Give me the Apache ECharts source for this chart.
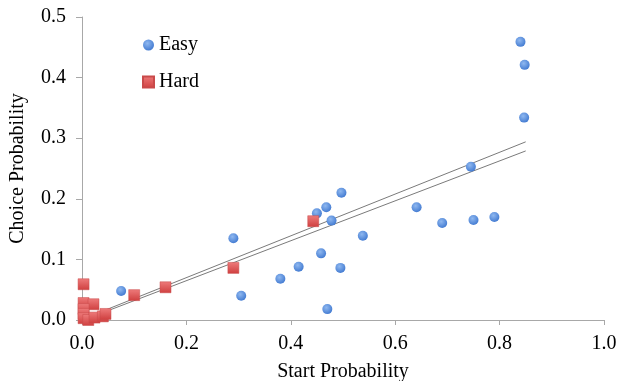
<!DOCTYPE html>
<html>
<head>
<meta charset="utf-8">
<script src="https://cdn.jsdelivr.net/npm/echarts@6/dist/echarts.min.js"></script>
<style>
html,body{margin:0;padding:0;background:#fff;}
#chart{width:617px;height:381px;}
</style>
</head>
<body>
<div id="chart"></div>
<script>
var easyData=[
    [0.075,0.048],[0.29,0.135],[0.305,0.04],[0.38,0.068],[0.415,0.088],
    [0.45,0.176],[0.458,0.11],[0.468,0.186],[0.47,0.018],[0.478,0.164],
    [0.497,0.21],[0.495,0.086],[0.538,0.139],[0.641,0.186],[0.69,0.16],
    [0.745,0.253],[0.75,0.165],[0.79,0.17],[0.84,0.459],[0.848,0.421],[0.847,0.334]
];
var hardData=[
    [0.003,0.059],[0.003,0.028],[0.022,0.026],[0.003,0.018],[0.003,0.01],
    [0.003,0.003],[0.012,0.0],[0.024,0.004],[0.04,0.006],[0.045,0.01],
    [0.1,0.041],[0.16,0.054],[0.29,0.086],[0.443,0.163]
];
var fitEasy=[[0.003,0.002],[0.85,0.294]];
var fitHard=[[0.003,0.0],[0.85,0.279]];

var chart=echarts.init(document.getElementById("chart"));
var font="Liberation Serif";
var axisColor="#a8a8a8";
option={
    animation:false,
    textStyle:{fontFamily:font},
    legend:{
        orient:"vertical",
        left:137,
        top:30,
        itemGap:17,
        itemWidth:11,
        itemHeight:11,
        textStyle:{fontFamily:font,fontSize:20,color:"#000"},
        data:[{name:"Easy",icon:"circle"},{name:"Hard",icon:"rect"}]
    },
    grid:{left:82,right:13,top:17,bottom:61,outerBoundsMode:"none",containLabel:false},
    xAxis:{
        type:"value",
        min:0,max:1,interval:0.2,
        name:"Start Probability",
        nameLocation:"middle",
        nameGap:42,
        nameTextStyle:{fontFamily:font,fontSize:20,color:"#000"},
        axisLine:{lineStyle:{color:axisColor,width:1}},
        axisTick:{show:true,length:5,lineStyle:{color:axisColor}},
        axisLabel:{fontFamily:font,fontSize:20,color:"#000",margin:14,
            formatter:function(v){return v.toFixed(1);}},
        splitLine:{show:false}
    },
    yAxis:{
        type:"value",
        min:0,max:0.5,interval:0.1,
        name:"Choice Probability",
        nameLocation:"middle",
        nameGap:54,
        nameTextStyle:{fontFamily:font,fontSize:20,color:"#000"},
        axisLine:{show:true,lineStyle:{color:axisColor,width:1}},
        axisTick:{show:true,length:6,lineStyle:{color:axisColor}},
        axisLabel:{fontFamily:font,fontSize:20,color:"#000",margin:16,
            formatter:function(v){return v.toFixed(1);}},
        splitLine:{show:false}
    },
    series:[
        {
            name:"fitEasy",type:"line",data:fitEasy,symbol:"none",
            lineStyle:{color:"#7a7a7a",width:1},z:1
        },
        {
            name:"fitHard",type:"line",data:fitHard,symbol:"none",
            lineStyle:{color:"#7a7a7a",width:1},z:1
        },
        {
            name:"Hard",type:"scatter",symbol:"rect",symbolSize:11,data:hardData,
            itemStyle:{
                color:new echarts.graphic.LinearGradient(0,0,0,1,[
                    {offset:0,color:"#ee7b7b"},{offset:1,color:"#cf3f3f"}]),
                borderColor:"#c94a4a",borderWidth:0.5,opacity:1
            },
            z:3
        },
        {
            name:"Easy",type:"scatter",symbol:"circle",symbolSize:10,data:easyData,
            itemStyle:{
                color:new echarts.graphic.RadialGradient(0.4,0.35,0.7,[
                    {offset:0,color:"#8fb8f0"},{offset:1,color:"#3f78d0"}]),
                opacity:1
            },
            z:2
        }
    ]
};
chart.setOption(option);
</script>
</body>
</html>
